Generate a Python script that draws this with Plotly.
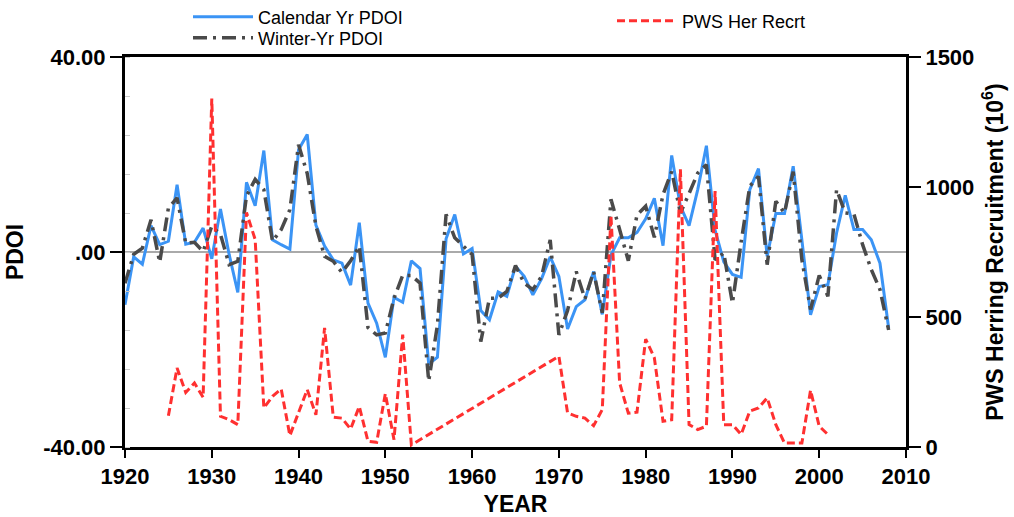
import plotly.graph_objects as go

years = list(range(1920, 2009))
cal_pdoi = [
    -10.8, -1.0, -2.5, 5.4, 1.5, 2.2, 13.8, 1.6, 2.0, 4.9,
    -1.4, 8.8, -0.5, -8.3, 14.3, 9.5, 20.8, 2.5, 1.5, 0.6,
    21.0, 24.1, 5.5, 1.2, -1.6, -2.3, -6.8, 6.0, -10.5, -14.6,
    -21.6, -9.3, -10.3, -1.8, -3.4, -23.0, -21.6, 2.7, 7.7, -0.4,
    0.7, -12.0, -13.9, -8.2, -9.1, -2.9, -5.0, -8.8, -5.5, -1.0,
    -5.0, -15.8, -11.2, -9.8, -4.0, -12.8, -0.6, 2.9, 2.9, 4.0,
    6.8, 11.0, 1.3, 19.8, 9.4, 5.4, 12.8, 21.8, 4.5, -2.0,
    -4.6, -5.2, 12.8, 17.1, -0.9, 7.9, 7.9, 17.6, 2.5, -12.9,
    -7.1, -6.7, 3.9, 11.6, 4.6, 4.6, 2.5, -2.3, -15.6,
]
win_pdoi = [
    -6.4, -0.5, 0.8, 6.6, -2.1, 9.0, 11.1, 1.8, 2.0, 0.1,
    5.3, 3.6, -2.6, -1.9, 11.5, 14.9, 12.8, 2.2, 4.6, 8.7,
    22.0, 16.1, 5.3, -0.9, -1.9, -4.2, -1.8, 1.2, -15.5, -17.0,
    -16.6, -9.5, -4.8, -4.8, -6.4, -26.5, -15.0, 7.7, 2.9, 1.2,
    -0.5, -18.4, -9.5, -9.5, -8.1, -2.8, -6.4, -7.7, -5.0, 2.5,
    -17.0, -12.0, -4.0, -9.6, -4.0, -12.5, 10.8, 4.6, -1.8, 7.6,
    9.4, 3.0, 11.8, 16.5, 8.0, 12.0, 16.2, 17.9, -1.6, -0.2,
    -10.5, 2.0, 13.5, 15.5, -2.6, 10.4, 8.0, 16.5, -1.6, -11.8,
    -4.8, -9.1, 12.8, 8.0, 7.8, 1.5, -3.6, -7.7, -16.0,
]
rec_years = list(range(1925, 1954)) + list(range(1970, 2002))
recruit = [
    120, 304, 210, 246, 191, 1340, 118, 105, 86, 902,
    798, 150, 195, 223, 44, 131, 221, 124, 458, 115,
    111, 69, 156, 22, 18, 205, 28, 432, 8,
    349, 131, 118, 111, 82, 144, 890, 247, 130, 134,
    415, 343, 99, 105, 1068, 86, 67, 80, 984, 86,
    86, 48, 138, 150, 189, 86, 15, 15, 15, 218,
    80, 48,
]

left_tickvals = [-40, 0, 40]
left_ticktext = ["-40.00", ".00", "40.00"]
right_tickvals = [0, 500, 1000, 1500]

FONT = "Liberation Sans, Arial, Helvetica, sans-serif"
LEG_FONT = "Liberation Sans, Arial, sans-serif"

W, H = 1014, 517
L, R, T, B = 125, 108, 57, 70
PW, PH = W - L - R, H - T - B

fig = go.Figure()
fig.add_trace(go.Scatter(
    x=years, y=cal_pdoi, mode="lines", name="Calendar Yr PDOI", showlegend=True,
    line=dict(color="#3b94f5", width=3), legend="legend"))
fig.add_trace(go.Scatter(
    x=years, y=win_pdoi, mode="lines", name="Winter-Yr PDOI", showlegend=True,
    line=dict(color="#4a4a4a", width=3.5, dash="14px,6px,3px,6px"), legend="legend2"))
fig.add_trace(go.Scatter(
    x=rec_years, y=recruit, mode="lines", name="PWS Her Recrt", yaxis="y2", showlegend=True,
    line=dict(color="#ff3030", width=3, dash="8px,4px"), legend="legend3"))

tick_font = dict(family=FONT, size=22, color="black", weight="bold")
title_font = dict(family=FONT, size=23, color="black", weight="bold")


def leg(px_x, px_y):
    return dict(
        x=(px_x - L) / PW, y=1 + (T - px_y) / PH, xanchor="left", yanchor="middle",
        bgcolor="rgba(0,0,0,0)", borderwidth=0,
        font=dict(family=LEG_FONT, size=18, color="black"),
        itemwidth=60, visible=True,
    )


fig.update_layout(
    width=W, height=H,
    showlegend=True,
    margin=dict(l=L, r=R, t=T, b=B, autoexpand=False),
    paper_bgcolor="white", plot_bgcolor="white",
    font=dict(family=FONT, color="black"),
    xaxis=dict(
        range=[1920, 2010], tickmode="linear", tick0=1920, dtick=10,
        ticks="outside", ticklen=8, tickwidth=2, tickcolor="black",
        showline=True, linecolor="black", linewidth=3, mirror=True,
        showgrid=False, zeroline=False, tickfont=tick_font, automargin=False,
        title=dict(text="YEAR", font=title_font, standoff=10),
    ),
    yaxis=dict(
        range=[-40, 40], tickmode="array", tickvals=left_tickvals, ticktext=left_ticktext,
        ticks="outside", ticklen=12, tickwidth=2, tickcolor="black",
        showline=True, linecolor="black", linewidth=3, automargin=False,
        showgrid=False, zeroline=True, zerolinecolor="#aaaaaa", zerolinewidth=1.5,
        minor=dict(tickmode="linear", tick0=0, dtick=8, ticks="inside", ticklen=5,
                   tickcolor="#cccccc", tickwidth=1, showgrid=False),
        tickfont=tick_font,
        title=dict(text="PDOI", font=title_font, standoff=14),
    ),
    yaxis2=dict(
        overlaying="y", side="right", range=[0, 1500],
        tickmode="array", tickvals=right_tickvals,
        ticks="outside", ticklen=12, tickwidth=2, tickcolor="black",
        showline=True, linecolor="black", linewidth=3, automargin=False,
        showgrid=False, zeroline=False, tickfont=tick_font,
        title=dict(text="PWS Herring Recruitment (10<sup>6</sup>)", font=title_font, standoff=14),
    ),
    legend=leg(188, 17),
    legend2=leg(188, 38),
    legend3=leg(612, 21),
)

fig.write_html("out.html")
